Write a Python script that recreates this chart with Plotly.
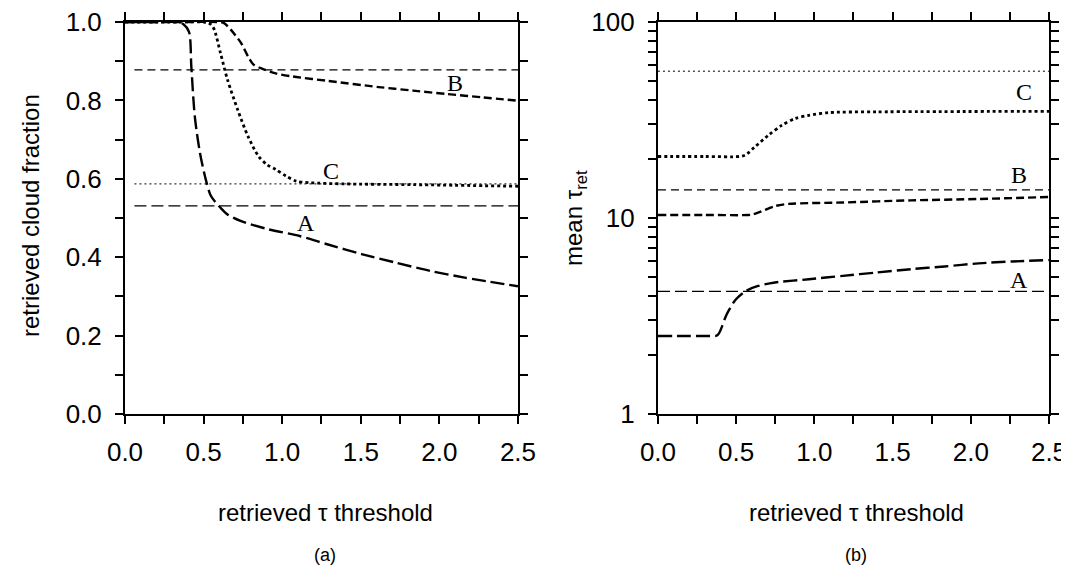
import math
import plotly.graph_objects as go
from plotly.subplots import make_subplots

# ---- panel (a): retrieved cloud fraction ----
a_x = [0.0, 0.2, 0.33, 0.37, 0.407, 0.422, 0.444, 0.477, 0.514, 0.547, 0.608, 0.652, 0.739, 0.914, 1.111, 1.286, 1.505, 1.724, 1.942, 2.161, 2.5]
a_y = [1.0, 1.0, 1.0, 0.995, 0.975, 0.886, 0.759, 0.666, 0.598, 0.556, 0.526, 0.509, 0.492, 0.471, 0.454, 0.433, 0.408, 0.386, 0.365, 0.348, 0.326]
b_x = [0.0, 0.4, 0.59, 0.63, 0.674, 0.739, 0.783, 0.816, 0.871, 0.958, 1.067, 1.286, 1.614, 1.833, 2.052, 2.270, 2.5]
b_y = [1.0, 1.0, 1.0, 0.997, 0.98, 0.946, 0.912, 0.892, 0.881, 0.869, 0.861, 0.850, 0.834, 0.825, 0.816, 0.808, 0.799]
c_x = [0.0, 0.35, 0.50, 0.535, 0.564, 0.608, 0.652, 0.717, 0.783, 0.849, 0.903, 0.958, 1.024, 1.089, 1.177, 1.396, 1.833, 2.5]
c_y = [1.0, 1.0, 1.0, 0.997, 0.984, 0.920, 0.853, 0.776, 0.708, 0.658, 0.636, 0.624, 0.607, 0.594, 0.590, 0.587, 0.585, 0.581]
ref_a_frac = {"A": 0.531, "B": 0.878, "C": 0.587}
ref_start_a = 0.06

# ---- panel (b): mean tau_ret ----
ta_x = [0.0, 0.2, 0.35, 0.375, 0.39, 0.41, 0.43, 0.45, 0.499, 0.564, 0.640, 0.748, 0.965, 1.182, 1.398, 1.616, 1.833, 2.05, 2.266, 2.5]
ta_y = [2.5, 2.5, 2.5, 2.51, 2.58, 2.8, 3.1, 3.35, 3.85, 4.25, 4.5, 4.69, 4.87, 5.07, 5.27, 5.48, 5.66, 5.87, 6.0, 6.1]
tb_x = [0.0, 0.3, 0.58, 0.61, 0.661, 0.748, 0.835, 1.182, 1.616, 2.05, 2.5]
tb_y = [10.36, 10.36, 10.36, 10.45, 10.8, 11.5, 11.8, 12.0, 12.3, 12.5, 12.8]
tc_x = [0.0, 0.3, 0.52, 0.56, 0.618, 0.705, 0.791, 0.878, 0.965, 1.095, 1.398, 2.5]
tc_y = [20.6, 20.6, 20.6, 21.0, 23.0, 26.4, 29.7, 32.2, 33.4, 34.5, 34.8, 35.0]
ref_b_tau = {"A": 4.22, "B": 13.9, "C": 56.1}

labels_a = {"A": (1.15, 0.488), "B": (2.10, 0.844), "C": (1.31, 0.619)}
labels_b = {"A": (2.31, 4.82), "B": (2.31, 16.5), "C": (2.34, 44.0)}

x_ticks = [0.0, 0.5, 1.0, 1.5, 2.0, 2.5]

curve_style = {"A": dict(dash="14px,5px", width=2.4),
               "B": dict(dash="8px,4px", width=2.4),
               "C": dict(dash="3px,3px", width=2.8)}
ref_style = {"A": dict(dash="12px,5px", width=1.2),
             "B": dict(dash="8px,5px", width=1.2),
             "C": dict(dash="2px,3px", width=1.0)}

fig = make_subplots(rows=1, cols=2, horizontal_spacing=0.15)

for k, (xs, ys) in {"A": (a_x, a_y), "B": (b_x, b_y), "C": (c_x, c_y)}.items():
    fig.add_trace(go.Scatter(x=xs, y=ys, mode="lines", line_shape="spline",
                             line=dict(color="black", smoothing=0.8, **curve_style[k]), showlegend=False), 1, 1)
    fig.add_trace(go.Scatter(x=[ref_start_a, 2.5], y=[ref_a_frac[k]] * 2, mode="lines",
                             line=dict(color="black", **ref_style[k]), showlegend=False), 1, 1)

for k, (xs, ys) in {"A": (ta_x, ta_y), "B": (tb_x, tb_y), "C": (tc_x, tc_y)}.items():
    fig.add_trace(go.Scatter(x=xs, y=ys, mode="lines", line_shape="spline",
                             line=dict(color="black", smoothing=0.8, **curve_style[k]), showlegend=False), 1, 2)
    fig.add_trace(go.Scatter(x=[0.0, 2.5], y=[ref_b_tau[k]] * 2, mode="lines",
                             line=dict(color="black", **ref_style[k]), showlegend=False), 1, 2)

tickfont = dict(family="Liberation Sans, Arial", size=26, color="black")
common_x = dict(range=[0, 2.5], tickvals=x_ticks, ticktext=[f"{v:.1f}" for v in x_ticks],
                showline=True, linecolor="black", linewidth=2, mirror="ticks",
                ticks="outside", ticklen=8, tickwidth=1.5, tickcolor="black",
                minor=dict(dtick=0.25, ticks="outside", ticklen=8, tickwidth=1.5, tickcolor="black"),
                showgrid=False, zeroline=False, tickfont=tickfont, ticklabelstandoff=6,
                ticklabeloverflow="allow")
fig.update_xaxes(**common_x, domain=[0, 0.4253], row=1, col=1)
fig.update_xaxes(**common_x, domain=[0.5768, 1.0], row=1, col=2)

fig.update_yaxes(range=[0, 1], dtick=0.2, tickformat=".1f",
                 showline=True, linecolor="black", linewidth=2, mirror="ticks",
                 ticks="outside", ticklen=8, tickwidth=1.5, tickcolor="black",
                 minor=dict(dtick=0.1, ticks="outside", ticklen=8, tickwidth=1.5, tickcolor="black"),
                 showgrid=False, zeroline=False, tickfont=tickfont, ticklabelstandoff=8,
                 ticklabeloverflow="allow", row=1, col=1)
fig.update_yaxes(type="log", range=[0, 2], tickvals=[1, 10, 100], ticktext=["1", "10", "100"],
                 showline=True, linecolor="black", linewidth=2, mirror="ticks",
                 ticks="outside", ticklen=8, tickwidth=1.5, tickcolor="black",
                 minor=dict(tickvals=[2, 3, 4, 5, 6, 7, 8, 9, 20, 30, 40, 50, 60, 70, 80, 90],
                            ticks="outside", ticklen=8, tickwidth=1.5, tickcolor="black"),
                 showgrid=False, zeroline=False, tickfont=tickfont, ticklabelstandoff=8,
                 ticklabeloverflow="allow", row=1, col=2)

annots = []
serif = dict(family="Liberation Serif, Times New Roman", size=24, color="black")
for k, (x, y) in labels_a.items():
    annots.append(dict(x=x, y=y, xref="x", yref="y", text=k, showarrow=False, font=serif))
for k, (x, y) in labels_b.items():
    annots.append(dict(x=x, y=math.log10(y), xref="x2", yref="y2", text=k, showarrow=False, font=serif))

sans = dict(family="Liberation Sans, Arial", size=24, color="black")
small = dict(family="Liberation Sans, Arial", size=18, color="black")
# positions in screen pixels (page has an 8px body margin; compensated below)
pix = [
    dict(x=30, y=216, text="retrieved cloud fraction", textangle=-90, font=sans),
    dict(x=575, y=218, text="mean τ<sub>ret</sub>", textangle=-90, font=sans),
    dict(x=325, y=512, text="retrieved τ threshold", font=sans),
    dict(x=856, y=512, text="retrieved τ threshold", font=sans),
    dict(x=325, y=555, text="(a)", font=small),
    dict(x=856, y=555, text="(b)", font=small),
]
OFF = 8
W, H = 1069 - OFF, 569 - OFF
left_px, top_px, right_px, bottom_px = 125, 22, 1049, 414  # plot area in screen pixels
ml, mt = left_px - OFF, top_px - OFF
pw, ph = right_px - left_px, bottom_px - top_px
mr, mb = W - ml - pw, H - mt - ph
for an in pix:
    an.update(xref="paper", yref="paper", xanchor="center", yanchor="middle", showarrow=False,
              x=(an["x"] - left_px) / pw, y=(bottom_px - an["y"]) / ph)
    annots.append(an)

fig.update_layout(width=W, height=H, margin=dict(l=ml, r=mr, t=mt, b=mb, autoexpand=False),
                  plot_bgcolor="white", paper_bgcolor="white", annotations=annots)

fig.write_html("out.html")
